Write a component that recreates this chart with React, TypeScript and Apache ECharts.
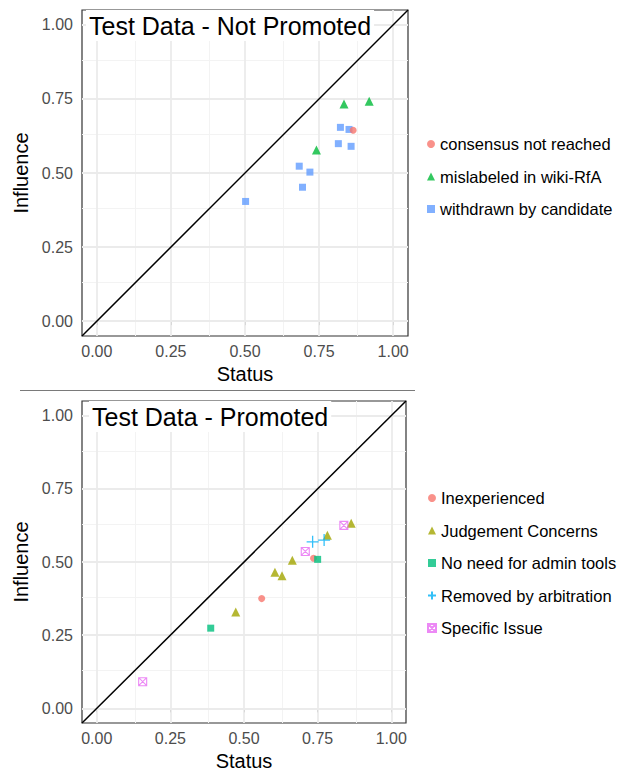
import React, { useEffect, useRef } from "react";
import * as echarts from "echarts";

// ---- data ----
const tickValues = [0, 0.25, 0.5, 0.75, 1];
const tickLabels = ["0.00", "0.25", "0.50", "0.75", "1.00"];
const minorValues = [0.125, 0.375, 0.625, 0.875];
const axisExtent = [-0.05, 1.05];

const topNames = ["consensus not reached", "mislabeled in wiki-RfA", "withdrawn by candidate"];
const consensusStatus = [0.865];
const consensusInfluence = [0.644];
const mislabeledStatus = [0.741, 0.834, 0.919];
const mislabeledInfluence = [0.578, 0.733, 0.742];
const withdrawnStatus = [0.502, 0.683, 0.719, 0.694, 0.815, 0.822, 0.851, 0.858];
const withdrawnInfluence = [0.404, 0.523, 0.503, 0.452, 0.599, 0.654, 0.647, 0.59];

const bottomNames = [
  "Inexperienced",
  "Judgement Concerns",
  "No need for admin tools",
  "Removed by arbitration",
  "Specific Issue",
];
const inexperiencedStatus = [0.56, 0.736];
const inexperiencedInfluence = [0.375, 0.513];
const judgementStatus = [0.472, 0.605, 0.629, 0.664, 0.783, 0.864];
const judgementInfluence = [0.329, 0.465, 0.453, 0.506, 0.591, 0.632];
const noNeedStatus = [0.387, 0.75];
const noNeedInfluence = [0.274, 0.509];
const removedStatus = [0.733, 0.772];
const removedInfluence = [0.569, 0.575];
const specificStatus = [0.156, 0.708, 0.839];
const specificInfluence = [0.091, 0.536, 0.625];

const FONT = "Liberation Sans, Arial, Helvetica, sans-serif";
const PLUS = "path://M5,0 L5,10 M0,5 L10,5";
const BOXX = "path://M0,0 L10,0 L10,10 L0,10 Z M0,0 L10,10 M10,0 L0,10";

const zip = (xs: number[], ys: number[]) => xs.map((x, i) => [x, ys[i]]);

function makeAxes(idx: number) {
  const x = {
    type: "value",
    gridIndex: idx,
    min: axisExtent[0],
    max: axisExtent[1],
    splitLine: { show: false },
    axisLine: { show: false },
    axisTick: { show: true, customValues: tickValues, length: 4, lineStyle: { color: "#333", width: 1 } },
    axisLabel: {
      customValues: tickValues,
      formatter: (v: number) => tickLabels[tickValues.indexOf(v)] ?? "",
      color: "#4D4D4D",
      fontSize: 16,
      margin: 7,
      fontFamily: FONT,
    },
    name: "Status",
    nameLocation: "middle",
    nameGap: 28,
    nameTextStyle: { fontSize: 20, color: "#000", fontFamily: FONT },
  };
  const y = {
    type: "value",
    gridIndex: idx,
    min: axisExtent[0],
    max: axisExtent[1],
    splitLine: { show: false },
    axisLine: { show: false },
    axisTick: { show: true, customValues: tickValues, length: 4, lineStyle: { color: "#333", width: 1 } },
    axisLabel: {
      customValues: tickValues,
      formatter: (v: number) => tickLabels[tickValues.indexOf(v)] ?? "",
      color: "#4D4D4D",
      fontSize: 16,
      margin: 9,
      fontFamily: FONT,
    },
    name: "Influence",
    nameLocation: "middle",
    nameGap: 42,
    nameTextStyle: { fontSize: 20, color: "#000", fontFamily: FONT },
  };
  return { x, y };
}

function gridSeries(idx: number) {
  const major = { color: "#EBEBEB", width: 1.8, type: "solid" };
  const minor = { color: "#F3F3F3", width: 1, type: "solid" };
  const data: any[] = [];
  minorValues.forEach((v) => {
    data.push({ xAxis: v, lineStyle: minor });
    data.push({ yAxis: v, lineStyle: minor });
  });
  tickValues.forEach((v) => {
    data.push({ xAxis: v, lineStyle: major });
    data.push({ yAxis: v, lineStyle: major });
  });
  return {
    type: "line",
    name: "grid" + idx,
    xAxisIndex: idx,
    yAxisIndex: idx,
    data: [],
    z: 1,
    silent: true,
    markLine: {
      z: 1,
      silent: true,
      symbol: ["none", "none"],
      label: { show: false },
      animation: false,
      data,
    },
  };
}

function diagSeries(idx: number) {
  return {
    type: "line",
    name: "diag" + idx,
    xAxisIndex: idx,
    yAxisIndex: idx,
    data: [
      [axisExtent[0], axisExtent[0]],
      [axisExtent[1], axisExtent[1]],
    ],
    showSymbol: false,
    symbol: "none",
    lineStyle: { color: "#000", width: 1.5 },
    z: 3,
    silent: true,
  };
}

function pts(idx: number, name: string, xs: number[], ys: number[], symbol: string, size: number, itemStyle: any, z = 5) {
  return {
    type: "scatter",
    name,
    xAxisIndex: idx,
    yAxisIndex: idx,
    data: zip(xs, ys),
    symbol,
    symbolSize: size,
    itemStyle,
    z,
  };
}

export default function App() {
  const ref = useRef<HTMLDivElement>(null);
  useEffect(() => {
    if (!ref.current) return;
    const chart = echarts.init(ref.current, null, { renderer: "svg" });
    const a0 = makeAxes(0);
    const a1 = makeAxes(1);
    const legendCommon = {
      orient: "vertical",
      left: 422,
      itemWidth: 8,
      itemHeight: 8,
      itemGap: 12.5,
      textStyle: { fontSize: 16.5, color: "#000", fontFamily: FONT, lineHeight: 20 },
      selectedMode: false,
    };
    chart.setOption({
      animation: false,
      textStyle: { fontFamily: FONT },
      title: [
        {
          text: "Test Data - Not Promoted",
          left: 86,
          top: 10,
          padding: [3, 3],
          backgroundColor: "#fff",
          textStyle: { fontSize: 25, fontWeight: "normal", color: "#000", fontFamily: FONT },
        },
        {
          text: "Test Data - Promoted",
          left: 89,
          top: 401,
          padding: [3, 3],
          backgroundColor: "#fff",
          textStyle: { fontSize: 25, fontWeight: "normal", color: "#000", fontFamily: FONT },
        },
      ],
      grid: [
        { left: 82, top: 10, width: 326, height: 326, show: true, borderColor: "#333", borderWidth: 1.2, backgroundColor: "transparent" },
        { left: 82, top: 401, width: 324, height: 322, show: true, borderColor: "#333", borderWidth: 1.2, backgroundColor: "transparent" },
      ],
      xAxis: [a0.x, a1.x],
      yAxis: [a0.y, a1.y],
      legend: [
        { ...legendCommon, top: 129, data: topNames },
        { ...legendCommon, top: 483, data: bottomNames },
      ],
      graphic: [
        { type: "line", shape: { x1: 20, y1: 390.5, x2: 415, y2: 390.5 }, style: { stroke: "#7a7a7a", lineWidth: 1 } },
      ],
      series: [
        gridSeries(0),
        gridSeries(1),
        diagSeries(0),
        diagSeries(1),
        pts(0, topNames[2], withdrawnStatus, withdrawnInfluence, "rect", 7, { color: "#619CFF" }, 5),
        pts(0, topNames[1], mislabeledStatus, mislabeledInfluence, "triangle", 9, { color: "#00BA38" }, 5),
        pts(0, topNames[0], consensusStatus, consensusInfluence, "circle", 7, { color: "#F8766D" }, 6),
        pts(1, bottomNames[0], inexperiencedStatus, inexperiencedInfluence, "circle", 7, { color: "#F8766D" }, 5),
        pts(1, bottomNames[1], judgementStatus, judgementInfluence, "triangle", 9, { color: "#A3A500" }, 5),
        pts(1, bottomNames[2], noNeedStatus, noNeedInfluence, "rect", 7, { color: "#00BF7D" }, 6),
        pts(1, bottomNames[3], removedStatus, removedInfluence, PLUS, 12, { color: "rgba(0,0,0,0)", borderColor: "#00B0F6", borderWidth: 1.3 }, 7),
        pts(1, bottomNames[4], specificStatus, specificInfluence, BOXX, 8, { color: "rgba(0,0,0,0)", borderColor: "#E76BF3", borderWidth: 1.1 }, 7),
      ],
    });
    return () => chart.dispose();
  }, []);
  return <div ref={ref} style={{ position: "absolute", left: 0, top: 0, width: 628, height: 775 }} />;
}
